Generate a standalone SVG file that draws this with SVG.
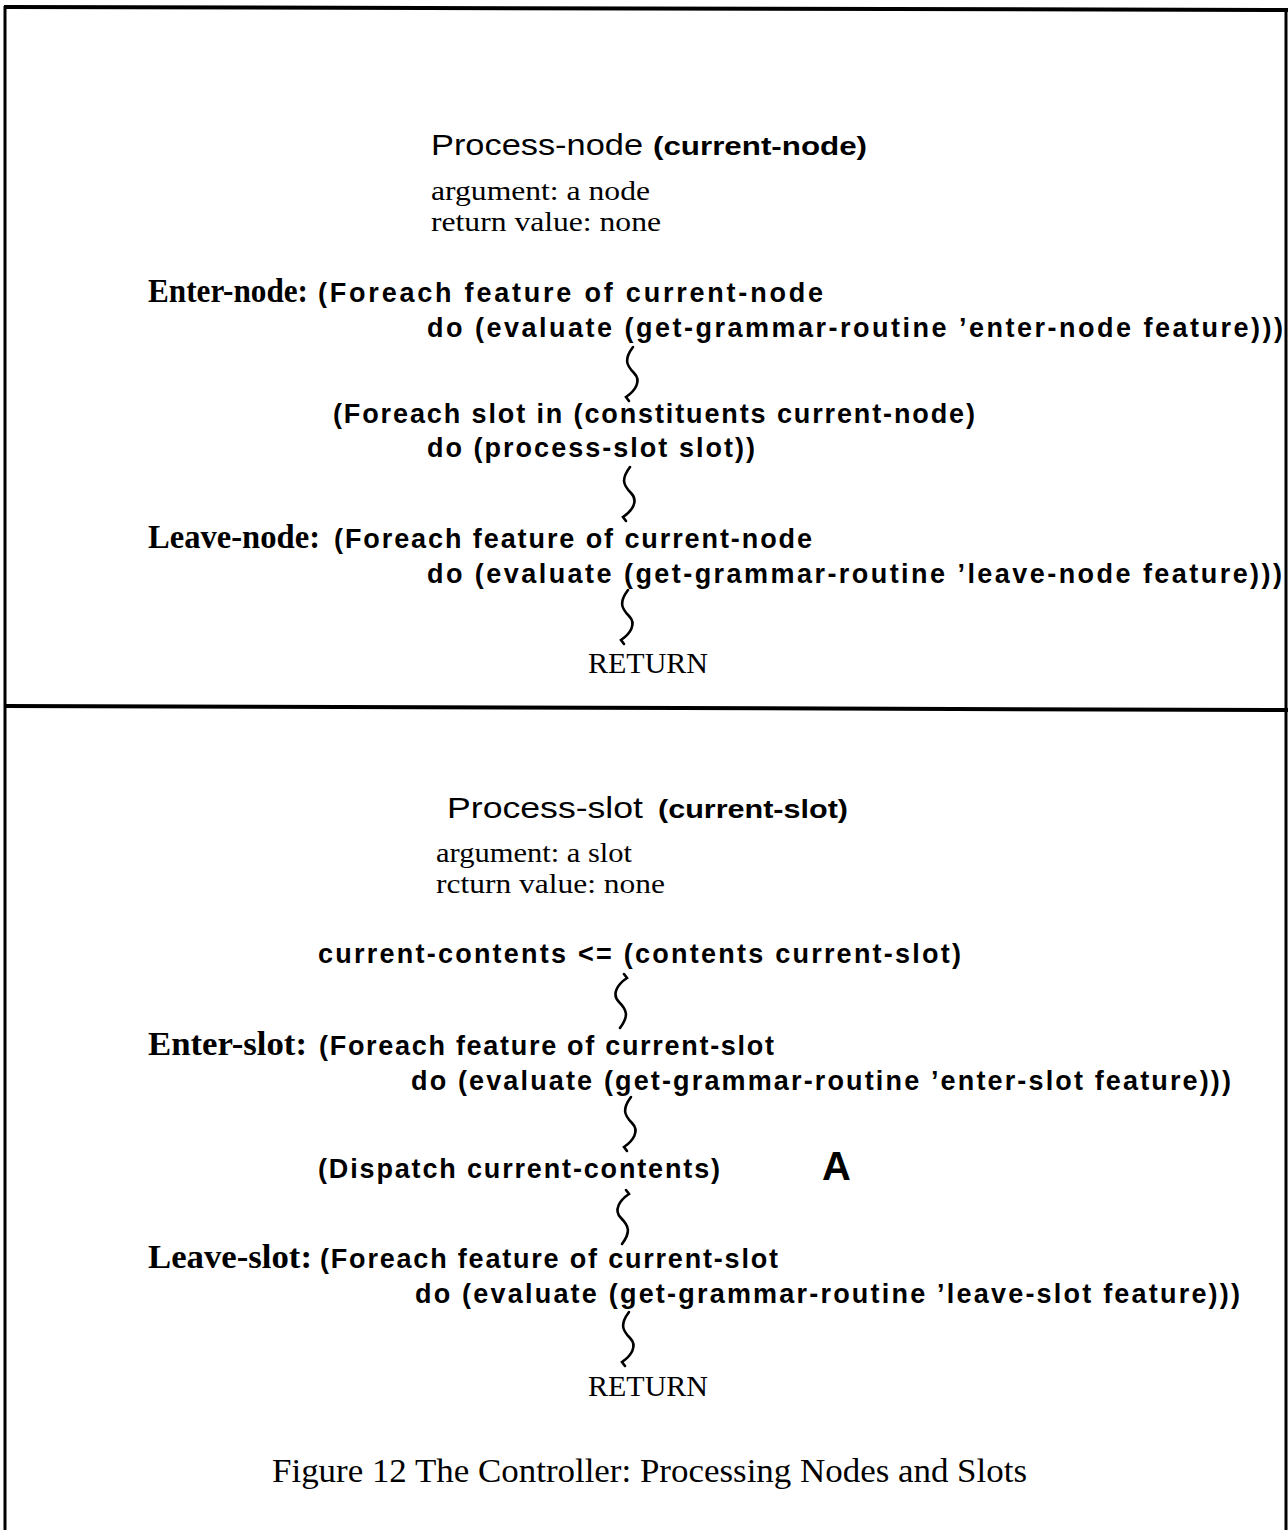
<svg xmlns="http://www.w3.org/2000/svg" width="1288" height="1530" viewBox="0 0 1288 1530">
  <style>
    .frame { fill: none; stroke: #000; stroke-width: 3; }
    .rule { stroke: #000; stroke-width: 4; }
    .code { font-family: "Liberation Sans", Arial, sans-serif; font-weight: bold; font-size: 27px; fill: #000; }
    .head { font-family: "Liberation Sans", Arial, sans-serif; font-size: 30px; fill: #000; }
    .headarg { font-family: "Liberation Sans", Arial, sans-serif; font-weight: bold; font-size: 25px; fill: #000; }
    .note { font-family: "Liberation Serif", "Times New Roman", serif; font-size: 28px; fill: #000; }
    .label { font-family: "Liberation Serif", "Times New Roman", serif; font-weight: bold; font-size: 33px; fill: #000; }
    .ret { font-family: "Liberation Serif", "Times New Roman", serif; font-size: 29px; fill: #000; }
    .caption { font-family: "Liberation Serif", "Times New Roman", serif; font-size: 34px; fill: #000; }
    .mark { font-family: "Liberation Sans", Arial, sans-serif; font-weight: bold; font-size: 40px; fill: #000; }
    .squig { fill: none; stroke: #000; stroke-width: 2.6; stroke-linecap: round; }
  </style>
  <defs>
    <path id="squiggle" d="M4,0 C-5,12 -3,18 5,26 C13,34 6,44 -3,50 L0,54"/>
  </defs>

  <rect width="1288" height="1530" fill="#fff"/>

  <!-- outer frame and the divider between the two procedures -->
  <g id="frame">
    <line class="frame" x1="5" y1="6" x2="5" y2="1530"/>
    <line class="frame" x1="1286" y1="8" x2="1286" y2="1530"/>
    <line class="rule" x1="4" y1="7" x2="1288" y2="10"/>
    <line class="rule" x1="4" y1="706" x2="1288" y2="710"/>
  </g>

  <!-- Process-node procedure -->
  <g id="process-node-header">
    <text class="head" x="431" y="155" textLength="212" lengthAdjust="spacingAndGlyphs">Process-node</text>
    <text class="headarg" x="653" y="155" textLength="214" lengthAdjust="spacingAndGlyphs">(current-node)</text>
    <text class="note" x="431" y="200" textLength="219" lengthAdjust="spacingAndGlyphs">argument:  a node</text>
    <text class="note" x="431" y="231" textLength="230" lengthAdjust="spacingAndGlyphs">return value:  none</text>
  </g>

  <g id="enter-node">
    <text class="label" x="148" y="302" textLength="160" lengthAdjust="spacingAndGlyphs">Enter-node:</text>
    <text class="code" x="318" y="302" textLength="505" lengthAdjust="spacing">(Foreach  feature  of  current-node</text>
    <text class="code" x="427" y="337" textLength="856" lengthAdjust="spacing">do  (evaluate  (get-grammar-routine  ’enter-node feature)))</text>
  </g>

  <g id="process-slots">
    <text class="code" x="333" y="423" textLength="642" lengthAdjust="spacing">(Foreach  slot  in  (constituents current-node)</text>
    <text class="code" x="427" y="457" textLength="328" lengthAdjust="spacing">do  (process-slot  slot))</text>
  </g>

  <g id="leave-node">
    <text class="label" x="148" y="548" textLength="172" lengthAdjust="spacingAndGlyphs">Leave-node:</text>
    <text class="code" x="334" y="548" textLength="478" lengthAdjust="spacing">(Foreach  feature of current-node</text>
    <text class="code" x="427" y="583" textLength="855" lengthAdjust="spacing">do   (evaluate  (get-grammar-routine  ’leave-node feature)))</text>
  </g>

  <g id="return-node">
    <text class="ret" x="588" y="673" textLength="120" lengthAdjust="spacingAndGlyphs">RETURN</text>
  </g>

  <!-- Process-slot procedure -->
  <g id="process-slot-header">
    <text class="head" x="447" y="818" textLength="196" lengthAdjust="spacingAndGlyphs">Process-slot</text>
    <text class="headarg" x="658" y="818" textLength="190" lengthAdjust="spacingAndGlyphs">(current-slot)</text>
    <text class="note" x="436" y="862" textLength="196" lengthAdjust="spacingAndGlyphs">argument:  a slot</text>
    <text class="note" x="436" y="893" textLength="229" lengthAdjust="spacingAndGlyphs">rcturn value:   none</text>
  </g>

  <g id="assign-contents">
    <text class="code" x="318" y="963" textLength="643" lengthAdjust="spacing">current-contents  &lt;=  (contents  current-slot)</text>
  </g>

  <g id="enter-slot">
    <text class="label" x="148" y="1055" textLength="159" lengthAdjust="spacingAndGlyphs">Enter-slot:</text>
    <text class="code" x="319" y="1055" textLength="455" lengthAdjust="spacing">(Foreach  feature of current-slot</text>
    <text class="code" x="411" y="1090" textLength="820" lengthAdjust="spacing">do   (evaluate  (get-grammar-routine  ’enter-slot feature)))</text>
  </g>

  <g id="dispatch">
    <text class="code" x="318" y="1178" textLength="402" lengthAdjust="spacing">(Dispatch  current-contents)</text>
    <text class="mark" x="822" y="1180">A</text>
  </g>

  <g id="leave-slot">
    <text class="label" x="148" y="1268" textLength="164" lengthAdjust="spacingAndGlyphs">Leave-slot:</text>
    <text class="code" x="320" y="1268" textLength="458" lengthAdjust="spacing">(Foreach  feature of current-slot</text>
    <text class="code" x="415" y="1303" textLength="825" lengthAdjust="spacing">do   (evaluate  (get-grammar-routine  ’leave-slot feature)))</text>
  </g>

  <g id="return-slot">
    <text class="ret" x="588" y="1396" textLength="120" lengthAdjust="spacingAndGlyphs">RETURN</text>
  </g>

  <g id="caption">
    <text class="caption" x="272" y="1482" textLength="755" lengthAdjust="spacingAndGlyphs">Figure 12  The Controller: Processing Nodes and Slots</text>
  </g>

  <!-- wavy connectors between the steps -->
  <g id="connectors">
    <use href="#squiggle" class="squig" transform="translate(629,347)"/>
    <use href="#squiggle" class="squig" transform="translate(626,467)"/>
    <use href="#squiggle" class="squig" transform="translate(624,590)"/>
    <use href="#squiggle" class="squig" transform="translate(624,1028) scale(-1,-1)"/>
    <use href="#squiggle" class="squig" transform="translate(627,1097)"/>
    <use href="#squiggle" class="squig" transform="translate(626,1244) scale(-1,-1)"/>
    <use href="#squiggle" class="squig" transform="translate(625,1312)"/>
  </g>
</svg>
